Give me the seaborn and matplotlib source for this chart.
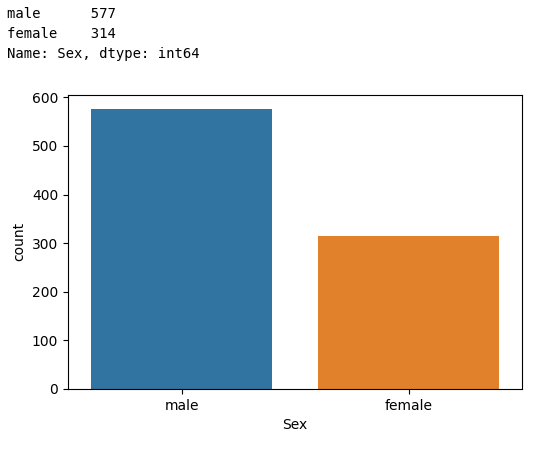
import matplotlib
matplotlib.use("Agg")
import matplotlib.pyplot as plt
import seaborn as sns
import pandas as pd

categories = ["male", "female"]
counts = [577, 314]
colors = ["#3274a1", "#e1812c"]

df = pd.DataFrame({"Sex": categories, "count": counts})

fig = plt.figure(figsize=(5.53, 4.5), dpi=100)
ax = fig.add_axes([0.123, 0.136, 0.821, 0.653])
sns.barplot(data=df, x="Sex", y="count", hue="Sex", palette=colors, ax=ax,
            saturation=1, width=0.8, legend=False)
ax.set_ylim(0, 605)
ax.set_yticks(range(0, 601, 100))
ax.tick_params(labelsize=10)

lines = [f"male      {counts[0]}", f"female    {counts[1]}", "Name: Sex, dtype: int64"]
for i, t in enumerate(lines):
    fig.text(0.012, 1 - (14 + 20 * i) / 450, t, family="DejaVu Sans Mono",
             fontsize=10, va="center", ha="left")

fig.savefig("out.png", dpi=100)
